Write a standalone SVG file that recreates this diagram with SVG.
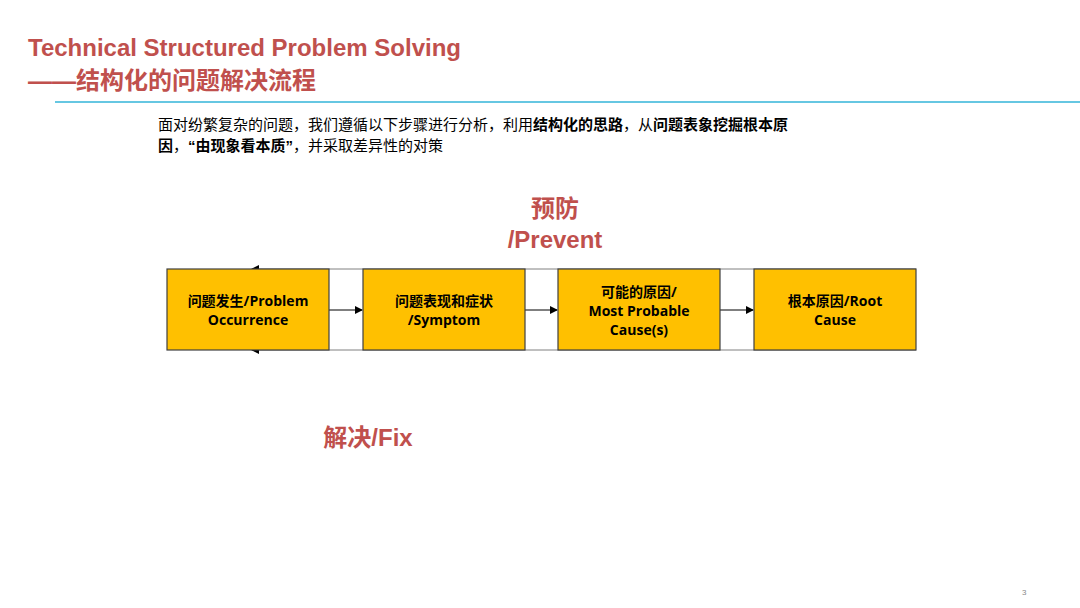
<svg xmlns="http://www.w3.org/2000/svg" width="1080" height="608" viewBox="0 0 1080 608">
<defs>
<marker id="ah" markerWidth="8" markerHeight="8" refX="7" refY="4" orient="auto" markerUnits="userSpaceOnUse"><path d="M0,0 L8,4 L0,8 z" fill="#000"/></marker>
<style>
.box{fill:#FFC000;stroke:#404040;stroke-width:1.2}
.bt{font-family:"Open Sans","Noto Sans CJK SC",sans-serif;font-weight:bold;font-size:14px;fill:#000;text-anchor:middle}
.red{font-family:"Liberation Sans","Noto Sans CJK SC",sans-serif;font-weight:bold;fill:#C0504D}
.ln{stroke:#808080;stroke-width:1;fill:none}
</style>
</defs>
<rect width="1080" height="608" fill="#fff"/>
<text x="28" y="56" class="red" font-size="24">Technical Structured Problem Solving</text>
<text x="28" y="89" class="red" font-size="24">——结构化的问题解决流程</text>
<line x1="55" y1="102" x2="1080" y2="102" stroke="#33B5D8" stroke-width="1.5"/>
<text font-family="'Liberation Sans','Noto Sans CJK SC',sans-serif" font-size="15" fill="#000"><tspan x="158" y="130">面对纷繁复杂的问题，我们遵循以下步骤进行分析，利用<tspan font-weight="bold">结构化的思路</tspan>，从<tspan font-weight="bold">问题表象挖掘根本原</tspan></tspan><tspan x="158" y="151"><tspan font-weight="bold">因</tspan>，<tspan font-weight="bold">“由现象看本质”</tspan>，并采取差异性的对策</tspan></text>
<text x="555" y="217" class="red" font-size="24" text-anchor="middle">预防</text>
<text x="555" y="248" class="red" font-size="24" text-anchor="middle">/Prevent</text>
<text x="368" y="446" class="red" font-size="24" text-anchor="middle">解决/Fix</text>
<g id="connectors">
<line class="ln" x1="916" y1="269" x2="252" y2="269" marker-end="url(#ah)" stroke="#000"/>
<line class="ln" x1="916" y1="350" x2="252" y2="350" marker-end="url(#ah)" stroke="#000"/>
<line x1="329" y1="310" x2="362" y2="310" stroke="#000" marker-end="url(#ah)"/>
<line x1="525" y1="310" x2="557" y2="310" stroke="#000" marker-end="url(#ah)"/>
<line x1="720" y1="310" x2="753" y2="310" stroke="#000" marker-end="url(#ah)"/>
</g>
<g id="n1"><rect class="box" x="167" y="269" width="162" height="81"/><text class="bt" x="248" y="306">问题发生/Problem</text><text class="bt" x="248" y="325">Occurrence</text></g>
<g id="n2"><rect class="box" x="363" y="269" width="162" height="81"/><text class="bt" x="444" y="306">问题表现和症状</text><text class="bt" x="444" y="325">/Symptom</text></g>
<g id="n3"><rect class="box" x="558" y="269" width="162" height="81"/><text class="bt" x="639" y="297">可能的原因/</text><text class="bt" x="639" y="316">Most Probable</text><text class="bt" x="639" y="335">Cause(s)</text></g>
<g id="n4"><rect class="box" x="754" y="269" width="162" height="81"/><text class="bt" x="835" y="306">根本原因/Root</text><text class="bt" x="835" y="325">Cause</text></g>
<text x="1022" y="595" font-family="Liberation Sans,sans-serif" font-size="8" fill="#888">3</text>
</svg>
